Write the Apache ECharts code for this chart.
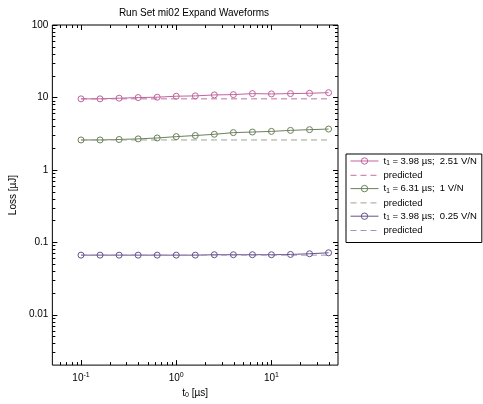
<!DOCTYPE html>
<html><head><meta charset="utf-8">
<script src="https://cdn.jsdelivr.net/npm/echarts@6/dist/echarts.min.js"></script>
<style>html,body{margin:0;padding:0;background:#fff}#c{width:483px;height:404px}</style>
</head><body><div id="c"></div>
<script>
// ---- data ----
const t0 = [0.1, 0.1585, 0.2512, 0.3981, 0.631, 1, 1.585, 2.512, 3.981, 6.31, 10, 15.85, 25.12, 39.81];
const loss251 = [9.54, 9.54, 9.75, 9.94, 10.06, 10.38, 10.48, 10.81, 10.92, 11.27, 11.16, 11.27, 11.4, 11.62];
const pred251 = [9.54, 9.54, 9.54, 9.54, 9.54, 9.54, 9.54, 9.54, 9.54, 9.54, 9.54, 9.54, 9.54, 9.54];
const loss1 = [2.58, 2.58, 2.62, 2.67, 2.75, 2.87, 2.97, 3.09, 3.26, 3.32, 3.39, 3.50, 3.58, 3.65];
const pred1 = [2.58, 2.58, 2.58, 2.58, 2.58, 2.58, 2.58, 2.58, 2.58, 2.58, 2.58, 2.58, 2.58, 2.58];
const loss025 = [0.0661, 0.0661, 0.0661, 0.0661, 0.0661, 0.0661, 0.0661, 0.067, 0.067, 0.067, 0.067, 0.0676, 0.0691, 0.0713];
const pred025 = [0.0661, 0.0661, 0.0661, 0.0661, 0.0661, 0.0661, 0.0661, 0.0661, 0.0661, 0.0661, 0.0661, 0.0661, 0.0661, 0.0661];
const seriesNames = ['s251', 'p251', 's1', 'p1', 's025', 'p025'];
const legendLabels = {
  s251: '{n|t}{sub|1}{n| = 3.98 µs;  2.51 V/N}',
  p251: '{n|predicted}',
  s1: '{n|t}{sub|1}{n| = 6.31 µs;  1 V/N}',
  p1: '{n|predicted}',
  s025: '{n|t}{sub|1}{n| = 3.98 µs;  0.25 V/N}',
  p025: '{n|predicted}'
};
const xRange = [0.05, 50];
const yRange = [0.002, 100];
const xMajorTicks = [0.1, 1, 10];
const xMinorTicks = [0.06, 0.07, 0.08, 0.09, 0.2, 0.3, 0.4, 0.5, 0.6, 0.7, 0.8, 0.9, 2, 3, 4, 5, 6, 7, 8, 9, 20, 30, 40];
const yMajorTicks = [0.01, 0.1, 1, 10, 100];
const yMinorTicks = [0.003, 0.004, 0.005, 0.006, 0.007, 0.008, 0.009, 0.02, 0.03, 0.04, 0.05, 0.06, 0.07, 0.08, 0.09,
  0.2, 0.3, 0.4, 0.5, 0.6, 0.7, 0.8, 0.9, 2, 3, 4, 5, 6, 7, 8, 9, 20, 30, 40, 50, 60, 70, 80, 90];

const FONT = 'Liberation Sans, Arial, Helvetica, sans-serif';
const colPink = '#c0639c', colPinkD = '#c070a4';
const colGreen = '#6b805c', colGreenD = '#9aa690';
const colPurple = '#66538a', colPurpleD = '#a292bc';

function pairs(ys) { return t0.map((x, i) => [x, ys[i]]); }
function isPow10(v) { const l = Math.log10(v); return Math.abs(l - Math.round(l)) < 1e-6; }

function solid(name, ys, col) {
  return {
    type: 'line', name: name, data: pairs(ys), symbol: 'circle', symbolSize: 6, showAllSymbol: true,
    lineStyle: { color: col, width: 1 },
    itemStyle: { color: 'rgba(255,255,255,0)', borderColor: col, borderWidth: 1 },
    emphasis: { disabled: true }, animation: false
  };
}
function dashed(name, ys, col) {
  return {
    type: 'line', name: name, data: pairs(ys), symbol: 'none',
    lineStyle: { color: col, width: 1, type: [6, 4] },
    itemStyle: { color: col },
    emphasis: { disabled: true }, animation: false
  };
}

function renderTicks(params, api) {
  const children = [];
  const seg = (a, b, c, d) => children.push({
    type: 'line', shape: { x1: a, y1: b, x2: c, y2: d }, style: { stroke: '#000', lineWidth: 1 }
  });
  const bl = api.coord([xRange[0], yRange[0]]);
  const tr = api.coord([xRange[1], yRange[1]]);
  const yb = bl[1], yt = tr[1], xl = bl[0], xr = tr[0];
  const put = (vals, len) => {
    vals.forEach(v => {
      const x = Math.round(api.coord([v, yRange[0]])[0]) + 0.5;
      seg(x, yb, x, yb - len); seg(x, yt, x, yt + len);
    });
  };
  const putY = (vals, len) => {
    vals.forEach(v => {
      const y = Math.round(api.coord([xRange[0], v])[1]) + 0.5;
      seg(xl, y, xl + len, y); seg(xr, y, xr - len, y);
    });
  };
  put(xMajorTicks, 5); put(xMinorTicks, 3);
  putY(yMajorTicks, 5); putY(yMinorTicks, 3);
  return { type: 'group', children: children };
}

const chart = echarts.init(document.getElementById('c'), null, { renderer: 'canvas' });
chart.setOption({
  animation: false,
  backgroundColor: '#fff',
  textStyle: { fontFamily: FONT },
  title: {
    text: 'Run Set mi02 Expand Waveforms', left: 194, top: 8, textAlign: 'center', padding: 0,
    textStyle: { fontSize: 10, fontWeight: 'normal', color: '#000', fontFamily: FONT }
  },
  grid: { left: 49, right: 145, top: 25, bottom: 33, show: true, borderColor: '#000', borderWidth: 1, backgroundColor: '#fff' },
  xAxis: {
    type: 'log', logBase: 10, min: xRange[0], max: xRange[1],
    axisLine: { show: false }, axisTick: { show: false }, splitLine: { show: false }, minorTick: { show: false },
    axisLabel: {
      margin: 6, color: '#000', showMinLabel: true, showMaxLabel: true,
      formatter: v => isPow10(v) ? '{b|10}{e|' + Math.round(Math.log10(v)) + '}' : '',
      rich: {
        b: { fontSize: 10, lineHeight: 14, fontFamily: FONT, color: '#000' },
        e: { fontSize: 7, lineHeight: 8, verticalAlign: 'top', fontFamily: FONT, color: '#000' }
      }
    },
    name: '{t|t}{s|0}{t| [µs]}', nameLocation: 'middle', nameGap: 15,
    nameTextStyle: {
      rich: {
        t: { fontSize: 10, lineHeight: 12, fontFamily: FONT, color: '#000' },
        s: { fontSize: 7, lineHeight: 6, verticalAlign: 'bottom', fontFamily: FONT, color: '#000' }
      }
    }
  },
  yAxis: {
    type: 'log', logBase: 10, min: yRange[0], max: yRange[1],
    axisLine: { show: false }, axisTick: { show: false }, splitLine: { show: false }, minorTick: { show: false },
    axisLabel: {
      margin: 4, color: '#000', fontSize: 10, fontFamily: FONT,
      formatter: v => isPow10(v) ? String(+v.toPrecision(3)) : ''
    },
    name: 'Loss [µJ]', nameLocation: 'middle', nameGap: 26,
    nameTextStyle: { fontSize: 10, color: '#000', fontFamily: FONT }
  },
  legend: {
    orient: 'vertical', left: 346, top: 154, padding: [2, 5, 7, 4],
    backgroundColor: '#fff', borderColor: '#000', borderWidth: 1, borderRadius: 0,
    itemWidth: 28, itemHeight: 8, itemGap: 3.3,
    lineStyle: { width: 1 },
    itemStyle: { borderWidth: 1 },
    data: seriesNames.map(n => n.charAt(0) === 'p'
      ? { name: n, itemStyle: { opacity: 0 } }
      : { name: n }),
    selectedMode: false,
    formatter: name => legendLabels[name],
    textStyle: {
      color: '#000', fontSize: 9.5, fontFamily: FONT,
      rich: {
        n: { fontSize: 9.5, lineHeight: 12, fontFamily: FONT, color: '#000' },
        sub: { fontSize: 6.5, lineHeight: 7, verticalAlign: 'bottom', fontFamily: FONT, color: '#000' }
      }
    }
  },
  series: [
    solid('s251', loss251, colPink),
    dashed('p251', pred251, colPinkD),
    solid('s1', loss1, colGreen),
    dashed('p1', pred1, colGreenD),
    solid('s025', loss025, colPurple),
    dashed('p025', pred025, colPurpleD),
    {
      type: 'custom', name: 'ticks', renderItem: renderTicks, data: [[xRange[0], yRange[0]]],
      silent: true, clip: false, z: 10, animation: false
    }
  ]
});
</script>
</body></html>
